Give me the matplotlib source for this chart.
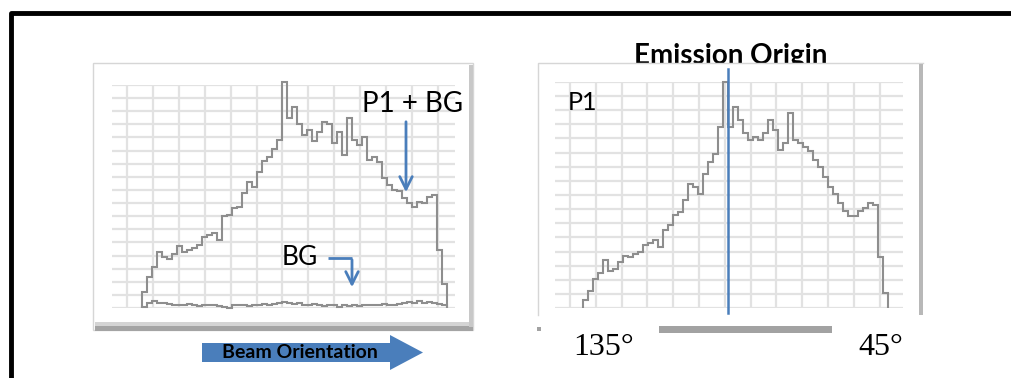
# beam orientation / emission origin figure
import matplotlib as mpl
import matplotlib.pyplot as plt
from matplotlib.patches import Rectangle, Polygon
import numpy as np

mpl.rcParams['font.family'] = ['Lato', 'DejaVu Sans']

# counts per bin (grid units), left panel: P1 + BG and BG alone
p1_bg = [1.2, 2.4, 3.1, 4.3, 3.9, 3.7, 4.1, 4.7, 4.3, 4.4,
         4.6, 4.8, 5.4, 5.6, 5.7, 5.2, 7.0, 7.1, 7.6, 7.7,
         8.8, 9.6, 9.2, 10.4, 11.2, 11.5, 12.1, 12.8, 17.25, 14.5,
         15.3, 14.0, 13.2, 13.6, 12.7, 13.4, 14.2, 14.0, 12.6, 13.4,
         11.7, 14.5, 12.8, 12.4, 13.0, 11.3, 11.5, 11.1, 9.9, 9.4,
         9.0, 8.9, 8.4, 8.0, 7.7, 8.1, 8.0, 8.5, 8.6, 4.4, 1.8]
bg = [0.1, 0.4, 0.5, 0.35, 0.4, 0.3, 0.25, 0.2, 0.25, 0.3,
      0.2, 0.15, 0.2, 0.25, 0.2, 0.15, 0.1, 0.0, 0.25, 0.2,
      0.2, 0.15, 0.2, 0.25, 0.3, 0.25, 0.3, 0.4, 0.45, 0.35,
      0.3, 0.35, 0.25, 0.2, 0.3, 0.2, 0.15, 0.2, 0.25, 0.1,
      0.2, 0.15, 0.2, 0.15, 0.2, 0.25, 0.2, 0.25, 0.3, 0.2,
      0.25, 0.3, 0.35, 0.45, 0.4, 0.5, 0.4, 0.45, 0.4, 0.3, 0.2]

# right panel: P1 only, with emission origin bin
p1 = [0.6, 1.2, 2.1, 2.5, 3.4, 2.6, 2.8, 3.3, 3.7, 3.65,
      3.8, 4.0, 4.5, 4.6, 4.8, 4.35, 5.5, 5.9, 6.6, 6.8,
      7.65, 8.8, 8.6, 8.1, 9.5, 10.35, 10.9, 12.8, 16.0, 12.8,
      14.2, 13.3, 12.35, 11.9, 12.1, 11.9, 12.35, 13.3, 12.6, 11.2,
      11.65, 13.8, 11.9, 11.65, 11.4, 11.1, 10.5, 10.0, 9.3, 8.6,
      8.1, 7.4, 6.9, 6.5, 6.5, 6.9, 7.1, 7.4, 7.3, 3.65, 1.1]
origin_bin = 28.9
angle_labels = ['135°', '45°']

blue = '#4a7ebb'
line_gray = '#8e8e8e'
grid_gray = '#e2e2e2'

fig = plt.figure(figsize=(10.11, 3.78), dpi=100)

# background layer in pixel coords (frames, title)
bgax = fig.add_axes([0, 0, 1, 1], zorder=0)
bgax.set_xlim(0, 1011)
bgax.set_ylim(378, 0)
bgax.axis('off')

# outer black frame (only top and left visible)
bgax.plot([11, 11, 1011], [378, 13, 13], color='black', lw=3.5, solid_capstyle='butt')

# left panel frame with shadow
bgax.add_patch(Rectangle((93, 63), 380, 267, facecolor='white', edgecolor='#d6d6d6', lw=1))
bgax.add_patch(Rectangle((95, 322), 378, 4, facecolor='#d4d4d4', lw=0))
bgax.add_patch(Rectangle((95, 326), 378, 5, facecolor='#a4a4a4', lw=0))
bgax.add_patch(Rectangle((469, 65), 4, 262, facecolor='#c8c8c8', lw=0))

# title behind the right frame
bgax.text(731, 64, 'Emission Origin', fontsize=20, fontweight='bold',
          ha='center', va='baseline', zorder=1)

# right panel frame (bottom cut off)
bgax.add_patch(Rectangle((538, 63), 385, 252, facecolor='white', edgecolor='none', zorder=2))
bgax.plot([538, 538, 923], [315, 63, 63], color='#d6d6d6', lw=1, zorder=3)
bgax.add_patch(Rectangle((919, 64), 4, 251, facecolor='#b8b8b8', lw=0, zorder=3))
bgax.add_patch(Rectangle((659, 326), 173, 7, facecolor='#a2a2a2', lw=0, zorder=3))
bgax.add_patch(Rectangle((537, 327), 4, 4, facecolor='#a2a2a2', lw=0, zorder=3))


def style_grid(ax, xgrid, ny):
    ax.set_xticks(xgrid)
    ax.set_yticks(range(ny))
    ax.grid(True, color=grid_gray, lw=1.6)
    ax.set_axisbelow(True)
    ax.tick_params(length=0, labelbottom=False, labelleft=False)
    for s in ax.spines.values():
        s.set_visible(False)
    ax.patch.set_alpha(0)


# left chart
axl = fig.add_axes([112 / 1011, 70 / 378, 343 / 1011, 223 / 378], zorder=1)
axl.set_xlim(-5.94, 62.66)
axl.set_ylim(0, 17)
style_grid(axl, -2.94 + 5.18 * np.arange(13), 18)
axl.stairs(p1_bg, np.arange(len(p1_bg) + 1), baseline=0, color=line_gray, lw=1.5, clip_on=False)
axl.stairs(bg, np.arange(len(bg) + 1), baseline=0, color=line_gray, lw=1.5, clip_on=False)

# right chart
axr = fig.add_axes([555 / 1011, 69.7 / 378, 348 / 1011, 226.6 / 378], zorder=1)
axr.set_xlim(-5.66, 63.94)
axr.set_ylim(0, 16)
style_grid(axr, -2.66 + 5.16 * np.arange(13), 17)
axr.stairs(p1, np.arange(len(p1) + 1), baseline=0, color=line_gray, lw=1.5, clip_on=False)
axr.axvline(origin_bin, ymin=-0.021, ymax=1.056, color=blue, lw=1.8, clip_on=False)

# overlay: labels and arrows
top = fig.add_axes([0, 0, 1, 1], zorder=2)
top.set_xlim(0, 1011)
top.set_ylim(378, 0)
top.axis('off')

top.text(362, 112, 'P1 + BG', fontsize=20, va='baseline')
top.text(282, 265, 'BG', fontsize=19, va='baseline')
top.text(568, 110, 'P1', fontsize=18, va='baseline')

arrow = dict(arrowstyle='->,head_length=0.9,head_width=0.45', color=blue, lw=2)
top.annotate('', xy=(406, 195), xytext=(406, 119), arrowprops=arrow)
top.plot([328, 352], [258, 258], color=blue, lw=2, solid_capstyle='butt')
top.annotate('', xy=(352, 290), xytext=(352, 257), arrowprops=arrow)

# beam orientation block arrow
top.add_patch(Polygon([(202, 343), (390, 343), (390, 335), (423, 352.5),
                       (390, 370), (390, 362), (202, 362)],
                      closed=True, facecolor=blue, edgecolor='none'))
top.text(300, 352, 'Beam Orientation', fontsize=14, fontweight='bold',
         ha='center', va='center')

# angle labels under the right chart
top.text(573, 355, angle_labels[0], fontsize=23, family=['Liberation Serif'], va='baseline')
top.text(858, 355, angle_labels[1], fontsize=23, family=['Liberation Serif'], va='baseline')

plt.savefig('out.png', dpi=100)
